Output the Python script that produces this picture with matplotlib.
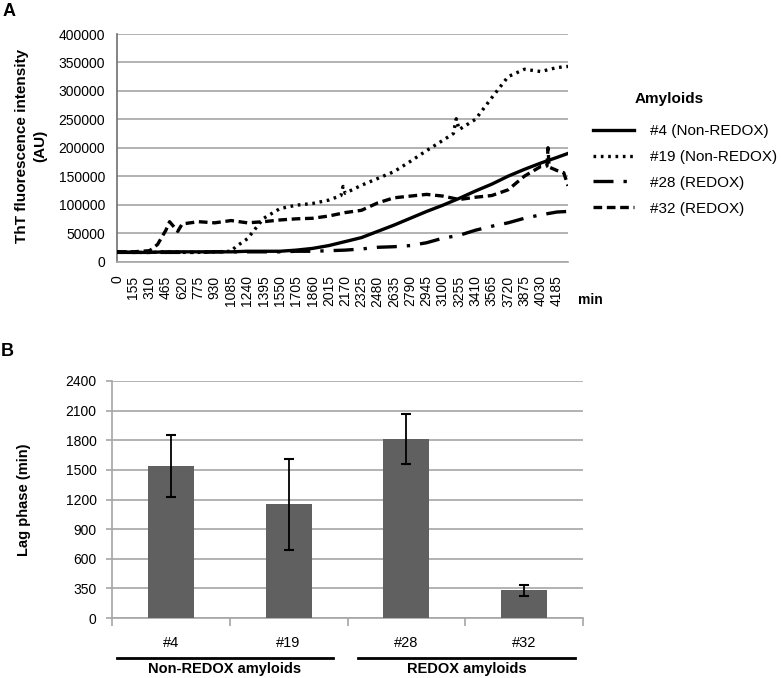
import matplotlib
matplotlib.use('Agg')
import matplotlib.pyplot as plt

plt.rcParams['font.family'] = ['Liberation Sans', 'DejaVu Sans']

# ---- panel A: ThT kinetics (min, AU)
tick_min = [0, 155, 310, 465, 620, 775, 930, 1085, 1240, 1395, 1550, 1705, 1860, 2015,
            2170, 2325, 2480, 2635, 2790, 2945, 3100, 3255, 3410, 3565, 3720, 3875, 4030, 4185]

time4 = [0, 155, 310, 465, 620, 775, 930, 1085, 1240, 1395, 1550, 1705, 1860, 2015, 2170,
         2325, 2480, 2635, 2790, 2945, 3100, 3255, 3410, 3565, 3720, 3875, 4030, 4185, 4290]
val4 = [16000, 16000, 16000, 17000, 17000, 17000, 17000, 17000, 18000, 18000, 18000, 20000,
        23000, 28000, 35000, 42000, 53000, 64000, 76000, 88000, 99000, 111000, 124000, 136000,
        150000, 162000, 173000, 183000, 190000]

time19 = [0, 155, 310, 465, 620, 775, 930, 1085, 1130, 1240, 1395, 1550, 1705, 1860, 2015,
          2130, 2150, 2170, 2325, 2480, 2635, 2790, 2945, 3100, 3200, 3227, 3255, 3410, 3565,
          3720, 3875, 4030, 4185, 4290]
val19 = [17000, 16000, 16000, 17000, 16000, 16000, 17000, 18000, 26000, 40000, 76000, 93000,
         99000, 102000, 108000, 116000, 132000, 120000, 134000, 146000, 158000, 176000, 195000,
         213000, 225000, 251000, 232000, 250000, 288000, 325000, 338000, 334000, 341000, 343000]

time28 = [0, 155, 310, 465, 620, 775, 930, 1085, 1240, 1395, 1550, 1705, 1860, 2015, 2170,
          2325, 2480, 2635, 2790, 2945, 3100, 3255, 3410, 3565, 3720, 3875, 4030, 4185, 4290]
val28 = [17000, 16000, 16000, 16000, 16000, 16000, 17000, 17000, 17000, 17000, 17000, 18000,
         18000, 19000, 20000, 22000, 25000, 26000, 28000, 33000, 41000, 46000, 55000, 62000,
         68000, 76000, 82000, 87000, 88000]

time32 = [0, 155, 310, 386, 465, 500, 578, 620, 775, 930, 1085, 1240, 1395, 1550, 1705, 1860,
          2015, 2170, 2325, 2480, 2635, 2790, 2945, 3100, 3255, 3410, 3565, 3720, 3875, 4030,
          4090, 4100, 4110, 4185, 4250, 4290]
val32 = [17000, 17000, 19000, 30000, 55000, 70000, 53000, 66000, 70000, 68000, 72000, 68000,
         70000, 73000, 75000, 76000, 80000, 86000, 90000, 103000, 112000, 115000, 118000,
         115000, 109000, 113000, 116000, 126000, 150000, 167000, 168000, 200000, 166000,
         160000, 156000, 133000]

series_labels = ['#4 (Non-REDOX)', '#19 (Non-REDOX)', '#28 (REDOX)', '#32 (REDOX)']

# ---- panel B: lag phase
groups = ['#4', '#19', '#28', '#32']
lag = [1540, 1150, 1810, 280]
lag_err = [310, 463, 252, 53]
b_ytick_labels = ['0', '350', '600', '900', '1200', '1500', '1800', '2100', '2400']
group_names = ['Non-REDOX amyloids', 'REDOX amyloids']

W, H = 781, 678
fig = plt.figure(figsize=(W / 100, H / 100), dpi=100)

def fx(px):
    return px / W

def fy(py):
    return 1 - py / H

grid_c = '#a6a6a6'

# ================= A =================
axA = fig.add_axes([fx(117), fy(261.5), fx(568) - fx(117), fy(34) - fy(261.5)])
axA.plot(time4, val4, '-', color='black', lw=2.4, label=series_labels[0], zorder=3)
axA.plot(time19, val19, color='black', lw=2.4, linestyle=(0, (0.8, 1.4)),
         label=series_labels[1], zorder=3)
axA.plot(time28, val28, color='black', lw=2.4, linestyle=(0, (6, 3, 1, 3)),
         label=series_labels[2], zorder=3)
axA.plot(time32, val32, color='black', lw=2.4, linestyle=(0, (2.6, 1.4)),
         label=series_labels[3], zorder=3)

axA.set_xlim(0, 4290)
axA.set_ylim(0, 400000)
axA.set_yticks(range(0, 400001, 50000))
axA.set_yticklabels([str(v) for v in range(0, 400001, 50000)], fontsize=10)
axA.set_xticks(tick_min)
axA.set_xticklabels([str(t) for t in tick_min], rotation=90, fontsize=10)
axA.tick_params(axis='y', length=0, pad=8.5)
axA.tick_params(axis='x', length=0, pad=10)
axA.yaxis.grid(True, color=grid_c, lw=1.2)
axA.set_axisbelow(True)
for s in ['top', 'right']:
    axA.spines[s].set_visible(False)
axA.spines['left'].set_color('#707070')
axA.spines['bottom'].set_color(grid_c)
axA.spines['left'].set_linewidth(1.2)
axA.spines['bottom'].set_linewidth(1.2)

fig.text(fx(31), fy(146), 'ThT fluorescence intensity\n(AU)', rotation=90,
         ha='center', va='center', multialignment='center', fontsize=11,
         fontweight='bold', linespacing=1.45)
fig.text(fx(578), fy(300), 'min', ha='left', va='center', fontsize=10, fontweight='bold')
fig.text(fx(3), fy(12), 'A', ha='left', va='center', fontsize=13, fontweight='bold')

handles, labels = axA.get_legend_handles_labels()
fig.legend(handles, labels, loc='upper left', bbox_to_anchor=(fx(593), fy(124)),
           frameon=False, fontsize=11, handlelength=2.7, handletextpad=1.0,
           labelspacing=0.78, borderpad=0, borderaxespad=0)
fig.text(fx(669), fy(99), 'Amyloids', ha='center', va='center', fontsize=11,
         fontweight='bold')

# ================= B =================
axB = fig.add_axes([fx(112), fy(618), fx(583) - fx(112), fy(381) - fy(618)])
xpos = list(range(len(groups)))
axB.bar(xpos, lag, width=0.39, color='#606060', zorder=3)
axB.errorbar(xpos, lag, yerr=lag_err, fmt='none', ecolor='black', elinewidth=1.3,
             capsize=3.5, capthick=1.5, zorder=4)
axB.set_xlim(-0.5, 3.5)
axB.set_ylim(0, 2400)
axB.set_yticks(range(0, 2401, 300))
axB.set_yticklabels(b_ytick_labels, fontsize=10)
axB.set_xticks(xpos)
axB.set_xticklabels(groups, fontsize=10.5)
axB.set_xticks([-0.5, 0.5, 1.5, 2.5, 3.5], minor=True)
axB.tick_params(axis='x', which='major', length=0, pad=13)
axB.tick_params(axis='x', which='minor', length=6, color=grid_c, width=1.2)
axB.tick_params(axis='y', length=4, color=grid_c, width=1.2, pad=7)
axB.yaxis.grid(True, color=grid_c, lw=1.2)
axB.set_axisbelow(True)
for s in ['top', 'right']:
    axB.spines[s].set_visible(False)
axB.spines['left'].set_color(grid_c)
axB.spines['bottom'].set_color(grid_c)
axB.spines['left'].set_linewidth(1.2)
axB.spines['bottom'].set_linewidth(1.2)
fig.text(fx(24), fy(500), 'Lag phase (min)', rotation=90, ha='center', va='center',
         fontsize=10.5, fontweight='bold')

# group underlines and names below the categories
tr = axB.get_xaxis_transform()
spans = [(-0.46, 1.38), (1.59, 3.43)]
for (a, b), name in zip(spans, group_names):
    axB.plot([a, b], [-0.169, -0.169], color='black', lw=2, transform=tr, clip_on=False)
    x_fig = fig.transFigure.inverted().transform(axB.transData.transform(((a + b) / 2, 0)))[0]
    fig.text(x_fig, fy(676), name, ha='center', va='bottom', fontsize=10.5,
             fontweight='bold')

fig.text(fx(1), fy(352), 'B', ha='left', va='center', fontsize=13, fontweight='bold')

fig.savefig('out.png', dpi=100)
